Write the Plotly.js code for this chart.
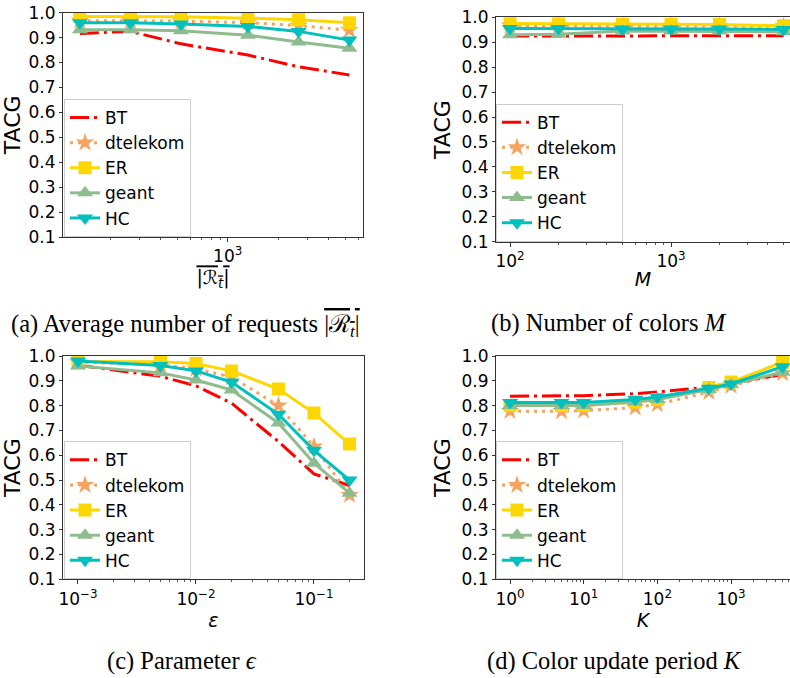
<!DOCTYPE html>
<html>
<head>
<meta charset="utf-8">
<script src="https://cdn.plot.ly/plotly-3.0.1.min.js"></script>
<style>html,body{margin:0;padding:0;background:#fff;}#chart{width:790px;height:678px;}</style>
</head>
<body>
<div id="chart"></div>
<script>
// ---------------- data ----------------
const seriesNames = ['BT', 'dtelekom', 'ER', 'geant', 'HC'];

// (a) average number of requests
const xA = [132, 264, 527, 1320, 2640, 5300];
const aBT = [0.917, 0.925, 0.875, 0.830, 0.783, 0.750];
const aDT = [0.968, 0.968, 0.966, 0.960, 0.948, 0.930];
const aER = [0.985, 0.985, 0.984, 0.978, 0.972, 0.960];
const aGE = [0.932, 0.932, 0.928, 0.910, 0.882, 0.857];
const aHC = [0.960, 0.960, 0.955, 0.945, 0.925, 0.890];

// (b) number of colors M
const xB = [100, 200, 500, 1000, 2000, 5000];
const bBT = [0.925, 0.925, 0.926, 0.926, 0.926, 0.926];
const bDT = [0.967, 0.967, 0.966, 0.966, 0.965, 0.964];
const bER = [0.975, 0.974, 0.972, 0.972, 0.971, 0.966];
const bGE = [0.930, 0.932, 0.945, 0.945, 0.945, 0.942];
const bHC = [0.955, 0.955, 0.953, 0.953, 0.953, 0.951];

// (c) parameter epsilon
const xC = [0.001, 0.005, 0.01, 0.02, 0.05, 0.1, 0.2];
const cBT = [0.963, 0.918, 0.880, 0.810, 0.655, 0.525, 0.478];
const cDT = [0.975, 0.965, 0.948, 0.915, 0.800, 0.635, 0.440];
const cER = [0.978, 0.977, 0.970, 0.940, 0.867, 0.770, 0.645];
const cGE = [0.960, 0.932, 0.903, 0.863, 0.730, 0.568, 0.447];
const cHC = [0.980, 0.962, 0.940, 0.895, 0.765, 0.620, 0.500];

// (d) color update period K
const xD = [1, 5, 10, 50, 100, 500, 1000, 5000];
const dBT = [0.838, 0.838, 0.840, 0.848, 0.855, 0.875, 0.890, 0.925];
const dDT = [0.778, 0.777, 0.780, 0.792, 0.805, 0.855, 0.880, 0.930];
const dER = [0.800, 0.800, 0.800, 0.815, 0.825, 0.873, 0.895, 0.975];
const dGE = [0.800, 0.800, 0.800, 0.815, 0.825, 0.865, 0.885, 0.935];
const dHC = [0.813, 0.813, 0.813, 0.825, 0.835, 0.870, 0.887, 0.957];

// tick labels
const yTickVals = [0.1, 0.2, 0.3, 0.4, 0.5, 0.6, 0.7, 0.8, 0.9, 1.0];
const yTickText = ['0.1', '0.2', '0.3', '0.4', '0.5', '0.6', '0.7', '0.8', '0.9', '1.0'];
const aTickVals = [1000];
const aTickText = ['10<sup>3</sup>'];
const bTickVals = [100, 1000];
const bTickText = ['10<sup>2</sup>', '10<sup>3</sup>'];
const cTickVals = [0.001, 0.01, 0.1];
const cTickText = ['10<sup>\u22123</sup>', '10<sup>\u22122</sup>', '10<sup>\u22121</sup>'];
const dTickVals = [1, 10, 100, 1000];
const dTickText = ['10<sup>0</sup>', '10<sup>1</sup>', '10<sup>2</sup>', '10<sup>3</sup>'];

const captions = [
  '(a) Average number of requests <span style="text-decoration:overline">|\u211B<sub><i>t</i></sub>|</span>',
  '(b) Number of colors <i>M</i>',
  '(c) Parameter <i>\u03F5</i>',
  '(d) Color update period <i>K</i>'
];
const xTitles = [
  '<span style="text-decoration:overline">|\u211B<sub><i>t</i></sub>|</span>',
  '<i>M</i>',
  '<i>\u03B5</i>',
  '<i>K</i>'
];

// ---------------- styles ----------------
const styles = {
  BT:       {color: '#ff0000', dash: '19px,5px,3px,5px', mode: 'lines', symbol: 'circle', size: 1},
  dtelekom: {color: '#f4a460', dash: '3px,5px', mode: 'lines+markers', symbol: 'star', size: 14},
  ER:       {color: '#ffd700', dash: 'solid', mode: 'lines+markers', symbol: 'square', size: 13},
  geant:    {color: '#8fbc8f', dash: 'solid', mode: 'lines+markers', symbol: 'triangle-up', size: 14},
  HC:       {color: '#00bfbf', dash: 'solid', mode: 'lines+markers', symbol: 'triangle-down', size: 14}
};

const panels = [
  {x: xA, ys: [aBT, aDT, aER, aGE, aHC], xa: 'x', ya: 'y', leg: 'legend'},
  {x: xB, ys: [bBT, bDT, bER, bGE, bHC], xa: 'x2', ya: 'y2', leg: 'legend2'},
  {x: xC, ys: [cBT, cDT, cER, cGE, cHC], xa: 'x3', ya: 'y3', leg: 'legend3'},
  {x: xD, ys: [dBT, dDT, dER, dGE, dHC], xa: 'x4', ya: 'y4', leg: 'legend4'}
];

const traces = [];
panels.forEach((p, pi) => {
  seriesNames.forEach((name, si) => {
    const s = styles[name];
    traces.push({
      type: 'scatter',
      x: p.x, y: p.ys[si],
      xaxis: p.xa, yaxis: p.ya,
      name: name,
      legend: p.leg,
      legendgroup: 'g' + pi + '_' + si,
      mode: s.mode,
      line: {color: s.color, width: 3, dash: s.dash},
      marker: {color: s.color, symbol: s.symbol, size: s.size},
      hoverinfo: 'skip'
    });
  });
});

const W = 790, H = 678;
const px = v => v / W;
const py = v => 1 - v / H;
const sans = 'DejaVu Sans, sans-serif';
const serif = 'Liberation Serif, serif';

function minorVals(lo, hi) {
  const out = [];
  for (let e = lo; e <= hi; e++) {
    for (let m = 2; m <= 9; m++) out.push(m * Math.pow(10, e));
  }
  return out;
}

function xaxis(anchor, domain, range, tv, tt, title, minor) {
  return {
    anchor: anchor,
    type: 'log', domain: domain, range: range,
    tickmode: 'array', tickvals: tv, ticktext: tt,
    ticks: 'outside', ticklen: 4, tickwidth: 1, tickcolor: '#333',
    tickfont: {family: sans, size: 17, color: '#000'},
    showgrid: false, zeroline: false,
    showline: true, linecolor: '#333', linewidth: 1, mirror: true,
    minor: {tickmode: 'array', tickvals: minor, ticks: 'outside', ticklen: 2, tickwidth: 1, tickcolor: '#555', showgrid: false},
    title: {text: title, font: {family: sans, size: 19, color: '#000'}, standoff: 2},
    automargin: false
  };
}
function yaxis(anchor, domain, mirror) {
  return {
    anchor: anchor,
    domain: domain, range: [0.1, 1.0],
    tickmode: 'array', tickvals: yTickVals, ticktext: yTickText,
    ticks: 'outside', ticklen: 3, tickwidth: 1, tickcolor: '#333',
    tickfont: {family: sans, size: 17, color: '#000'},
    showgrid: false, zeroline: false,
    showline: true, linecolor: '#333', linewidth: 1, mirror: mirror,
    title: {text: 'TACG', font: {family: sans, size: 22, color: '#000'}, standoff: 4},
    automargin: false
  };
}
function legend(xp, yp) {
  return {
    x: px(xp), y: py(yp), xanchor: 'left', yanchor: 'bottom',
    bgcolor: 'rgba(255,255,255,0.8)', bordercolor: '#cccccc', borderwidth: 1,
    font: {family: sans, size: 17, color: '#000'},
    traceorder: 'grouped', tracegroupgap: 0, itemsizing: 'trace'
  };
}
function caption(text, xc, yc) {
  return {text: text, x: px(xc), y: py(yc), xref: 'paper', yref: 'paper',
          xanchor: 'center', yanchor: 'middle', showarrow: false,
          font: {family: serif, size: 24.5, color: '#000'}};
}

const layout = {
  width: W, height: H,
  margin: {l: 0, r: 0, t: 0, b: 0},
  paper_bgcolor: '#fff', plot_bgcolor: '#fff',
  showlegend: true,
  font: {family: sans, color: '#000'},
  xaxis:  xaxis('y',  [px(63), px(363)], [2.020, 3.805], aTickVals, aTickText, xTitles[0], minorVals(2, 3)),
  yaxis:  yaxis('x',  [py(237), py(12.7)], true),
  xaxis2: xaxis('y2', [px(496), 1], [1.913, 3.739], bTickVals, bTickText, xTitles[1], minorVals(2, 3)),
  yaxis2: yaxis('x2', [py(241.7), py(17.3)], false),
  xaxis3: xaxis('y3', [px(63), px(364)], [-3.127, -0.576], cTickVals, cTickText, xTitles[2], minorVals(-3, -1)),
  yaxis3: yaxis('x3', [py(579.3), py(356)], true),
  xaxis4: xaxis('y4', [px(496), 1], [-0.19, 3.80], dTickVals, dTickText, xTitles[3], minorVals(0, 3)),
  yaxis4: yaxis('x4', [py(579.3), py(356)], false),
  legend:  legend(64, 237),
  legend2: legend(496, 241.7),
  legend3: legend(64, 579.3),
  legend4: legend(496, 579.3),
  annotations: [
    caption(captions[0], 185, 325),
    caption(captions[1], 609, 323),
    caption(captions[2], 182, 661),
    caption(captions[3], 614, 661)
  ]
};

Plotly.newPlot('chart', traces, layout, {staticPlot: true, displayModeBar: false});
</script>
</body>
</html>
